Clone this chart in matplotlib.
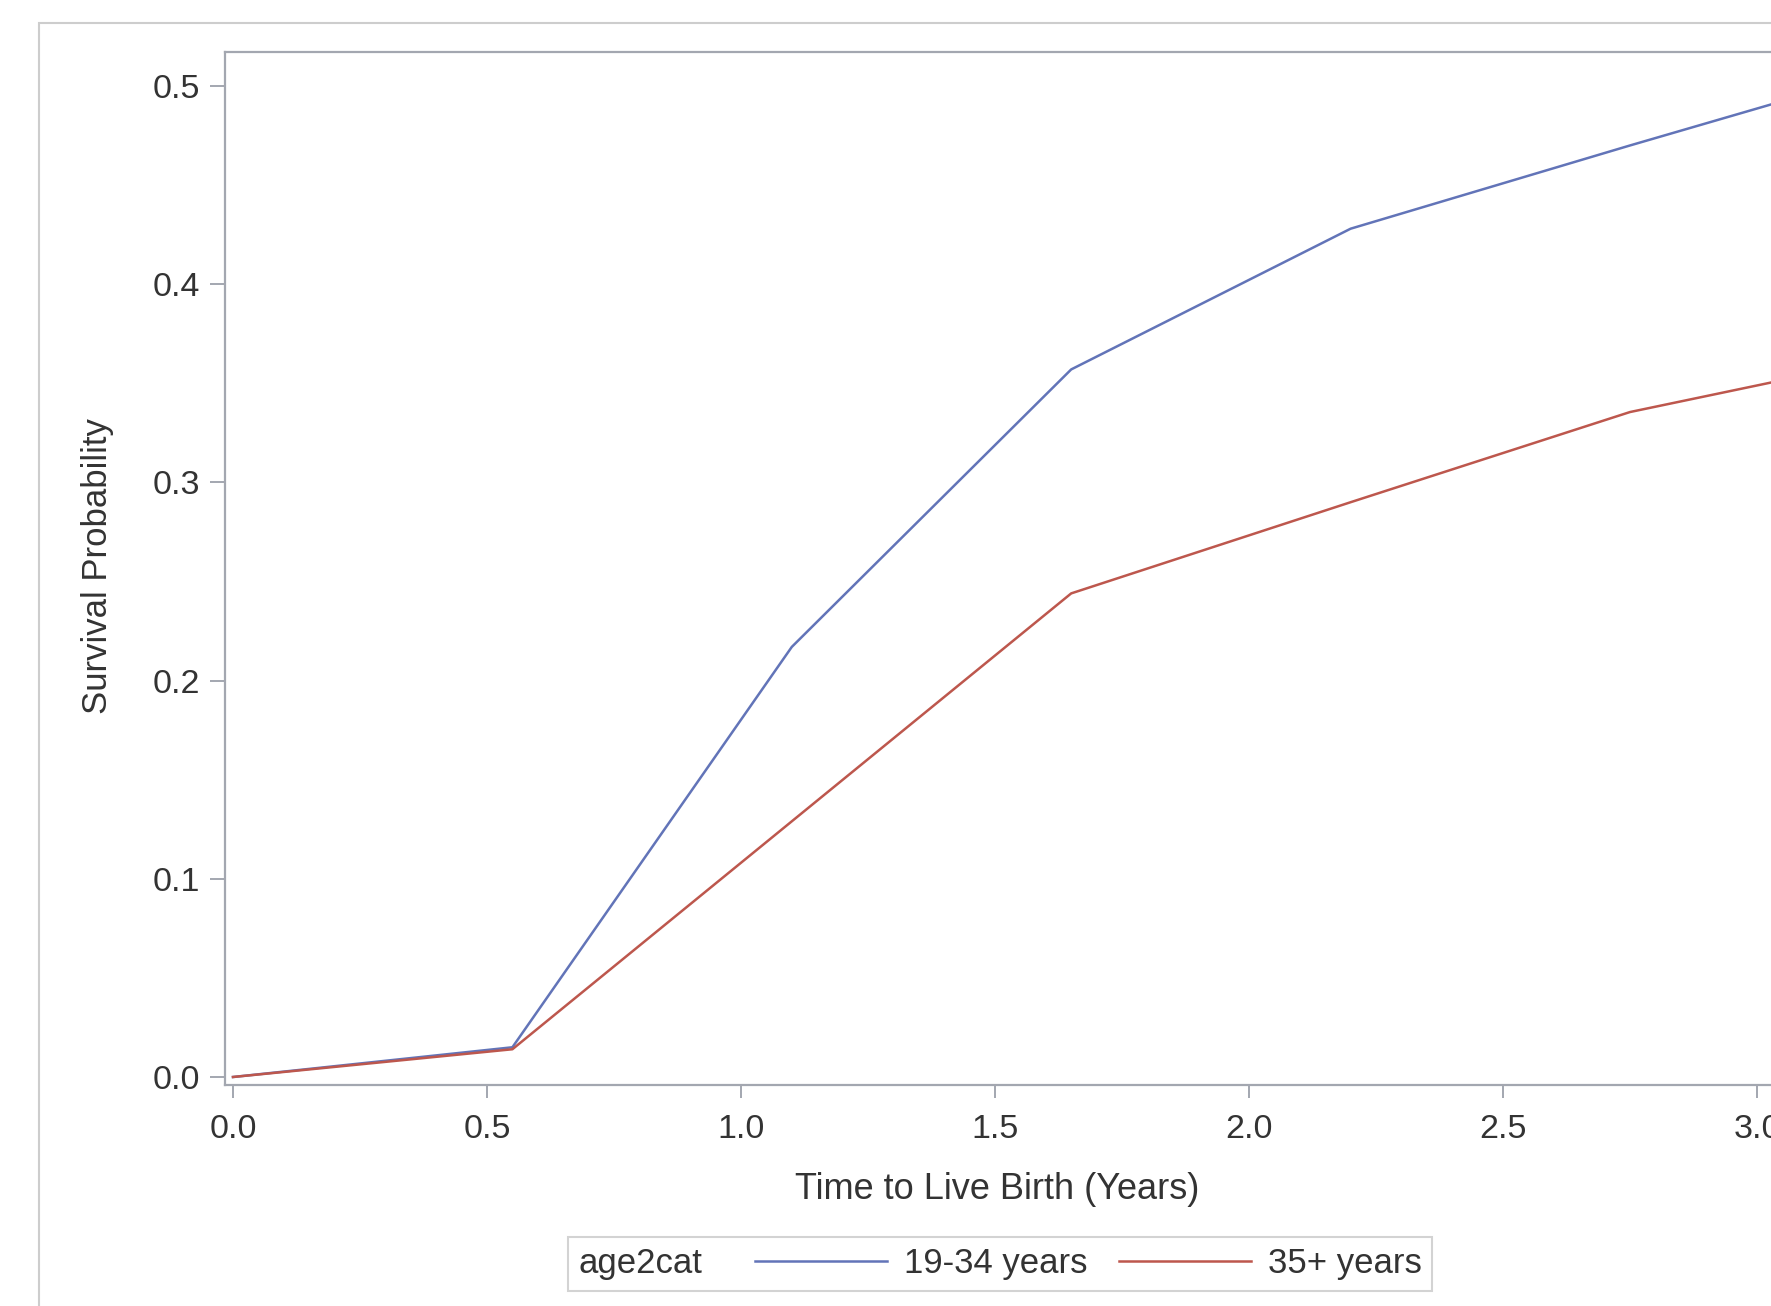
import matplotlib
matplotlib.use("Agg")
import matplotlib.pyplot as plt
from matplotlib.patches import Rectangle
from matplotlib.offsetbox import HPacker

plt.rcParams['font.family'] = ['Liberation Sans', 'DejaVu Sans']

# data
years = [0.0, 0.55, 1.1, 1.65, 2.2, 2.75, 3.3]
surv_1934 = [0.0, 0.015, 0.217, 0.357, 0.428, 0.470, 0.511]
surv_35 = [0.0, 0.014, 0.129, 0.244, 0.290, 0.3355, 0.365]
group_names = ['19-34 years', '35+ years']
legend_title = 'age2cat'
xticks = [0.0, 0.5, 1.0, 1.5, 2.0, 2.5, 3.0]
yticks = [0.0, 0.1, 0.2, 0.3, 0.4, 0.5]

W, H = 1771, 1306
fig = plt.figure(figsize=(W / 100, H / 100), dpi=100)

# outer graph frame (runs off the right and bottom edges)
fig.add_artist(Rectangle((39 / W, -0.2), 1.5, 0.2 + (H - 23) / H,
                         transform=fig.transFigure, fill=False,
                         edgecolor='#cdcdcd', linewidth=1.5))

# axes: left spine at 225 px, top at 52 px, bottom at 1085 px, right off the figure
left, right, top, bottom = 225, 1800, 52, 1085
ax = fig.add_axes([left / W, (H - bottom) / H, (right - left) / W, (bottom - top) / H])

ax.plot(years, surv_1934, color='#6274b8', lw=1.8, label=group_names[0])
ax.plot(years, surv_35, color='#bd574d', lw=1.8, label=group_names[1])

ax.set_xlim(-8 / 508, (right - 233) / 508)
ax.set_ylim(-8 / 1982, 0.5 + 34 / 1982)
ax.set_xticks(xticks)
ax.set_yticks(yticks)
ax.set_xticklabels([f'{v:.1f}' for v in xticks])
ax.set_yticklabels([f'{v:.1f}' for v in yticks])

for s in ax.spines.values():
    s.set_color('#a3a7b0')
    s.set_linewidth(1.6)
ax.tick_params(axis='both', colors='#a3a7b0', width=1.4, labelsize=24.5,
               labelcolor='#333333')
ax.tick_params(axis='y', length=11, pad=7)
ax.tick_params(axis='x', length=9, pad=12)

ax.set_xlabel('Time to Live Birth (Years)', fontsize=26, color='#333333')
ax.set_ylabel('Survival Probability', fontsize=25, color='#333333')
ax.xaxis.set_label_coords((997 - left) / (right - left), -(1172 - bottom) / (bottom - top))
ax.yaxis.set_label_coords(-(left - 114) / (right - left), 0.502)

leg = ax.legend(loc='center', bbox_to_anchor=(1000 / W, 42 / H),
                bbox_transform=fig.transFigure, ncol=2, fontsize=25,
                title=legend_title, title_fontsize=25, frameon=True,
                fancybox=False, handlelength=3.8, handletextpad=0.5,
                columnspacing=0.9, borderpad=0.2)
leg.get_frame().set_edgecolor('#c8c8c8')
leg.get_frame().set_linewidth(1.5)
leg.get_title().set_color('#333333')
for t in leg.get_texts():
    t.set_color('#333333')

# put the legend title to the left of the entries, SAS style
box = HPacker(pad=0.3 * 25, sep=38, align='center',
              children=[leg._legend_title_box, leg._legend_handle_box])
box.set_figure(fig)
box.set_offset(leg._findoffset)
leg._legend_box = box

fig.savefig('out.png', dpi=100)
